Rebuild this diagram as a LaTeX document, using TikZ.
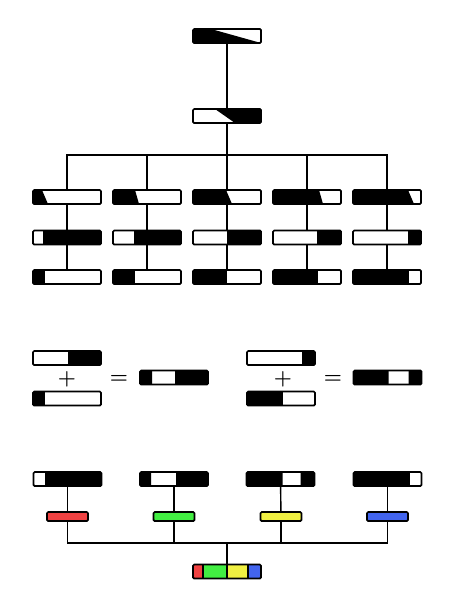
\documentclass[tikz,border=0pt]{standalone}
\usepackage{tikz}
\usetikzlibrary{positioning,calc}
\definecolor{tonered}{RGB}{240,66,66}
\definecolor{tonegreen}{RGB}{66,238,66}
\definecolor{toneyellow}{RGB}{240,240,66}
\definecolor{toneblue}{RGB}{66,100,238}
% a point inside a bar, in pt from its upper left corner
\newcommand\bpt[2]{($(path picture bounding box.north west)+(#1,#2)$)}

\begin{document}
\begin{tikzpicture}[x=1pt,y=-1pt,
    bar/.style={draw,line width=1.7pt,rounded corners=1.2pt,minimum width=68pt,
        minimum height=14pt,inner sep=0pt,outer sep=0pt},
    tone/.style={bar,minimum width=41pt,minimum height=9pt},
    blk/.style={path picture={\fill[black,sharp corners] #1;}},
    link/.style={line width=1.4pt},
    sign/.style={font=\fontsize{20.5}{20.5}\selectfont\boldmath,inner sep=0pt}]

    \useasboundingbox (0,0) rectangle (455,600);

    %the slanted pair on top
    \node[bar,blk={\bpt{0}{0} -- \bpt{18}{0} -- \bpt{68}{14} -- \bpt{0}{14} -- cycle}] (top) at (227,36) {};
    \node[bar,blk={\bpt{22}{0} -- \bpt{68}{0} -- \bpt{68}{14} -- \bpt{42}{14} -- cycle}] (second) at (227,116) {};
    \coordinate (hub) at (227,155);

    %first row: slanted cuts
    \node[bar,blk={\bpt{0}{0} -- \bpt{9}{0} -- \bpt{15}{14} -- \bpt{0}{14} -- cycle}] (s1) at (67,197) {};
    \node[bar,blk={\bpt{0}{0} -- \bpt{22}{0} -- \bpt{26}{14} -- \bpt{0}{14} -- cycle}] (s2) at (147,197) {};
    \node[bar,blk={\bpt{0}{0} -- \bpt{33}{0} -- \bpt{39}{14} -- \bpt{0}{14} -- cycle}] (s3) at (227,197) {};
    \node[bar,blk={\bpt{0}{0} -- \bpt{46}{0} -- \bpt{50}{14} -- \bpt{0}{14} -- cycle}] (s4) at (307,197) {};
    \node[bar,blk={\bpt{0}{0} -- \bpt{55}{0} -- \bpt{61}{14} -- \bpt{0}{14} -- cycle}] (s5) at (387,197) {};

    %second row: white on the left
    \node[bar,blk={\bpt{10}{0} rectangle \bpt{68}{14}}] (w1) at (67,237.5) {};
    \node[bar,blk={\bpt{21}{0} rectangle \bpt{68}{14}}] (w2) at (147,237.5) {};
    \node[bar,blk={\bpt{34}{0} rectangle \bpt{68}{14}}] (w3) at (227,237.5) {};
    \node[bar,blk={\bpt{44}{0} rectangle \bpt{68}{14}}] (w4) at (307,237.5) {};
    \node[bar,blk={\bpt{55}{0} rectangle \bpt{68}{14}}] (w5) at (387,237.5) {};

    %third row: black on the left
    \node[bar,blk={\bpt{0}{0} rectangle \bpt{12}{14}}] (k1) at (67,277) {};
    \node[bar,blk={\bpt{0}{0} rectangle \bpt{22}{14}}] (k2) at (147,277) {};
    \node[bar,blk={\bpt{0}{0} rectangle \bpt{34}{14}}] (k3) at (227,277) {};
    \node[bar,blk={\bpt{0}{0} rectangle \bpt{45}{14}}] (k4) at (307,277) {};
    \node[bar,blk={\bpt{0}{0} rectangle \bpt{56}{14}}] (k5) at (387,277) {};

    \draw[link] (top) -- (second);
    \draw[link] (second) -- (hub);
    \draw[link] (s1.north) |- (hub);
    \draw[link] (s2.north) |- (hub);
    \draw[link] (s3.north) -- (hub);
    \draw[link] (s4.north) |- (hub);
    \draw[link] (s5.north) |- (hub);
    \draw[link] (s1) -- (w1) -- (k1);
    \draw[link] (s2) -- (w2) -- (k2);
    \draw[link] (s3) -- (w3) -- (k3);
    \draw[link] (s4) -- (w4) -- (k4);
    \draw[link] (s5) -- (w5) -- (k5);

    %the two sums
    \node[bar,blk={\bpt{35}{0} rectangle \bpt{68}{14}}] (addA) at (67,358) {};
    \node[sign] (plusL) at (67,379) {$+$};
    \node[bar,blk={\bpt{0}{0} rectangle \bpt{12}{14}}] (addB) at (67,398.5) {};
    \node[sign] (eqL) at (119,379) {$=$};
    \node[bar,blk={\bpt{0}{0} rectangle \bpt{12}{14} \bpt{35}{0} rectangle \bpt{68}{14}}] (sumL) at (174,377.5) {};

    \node[bar,blk={\bpt{55}{0} rectangle \bpt{68}{14}}] (addC) at (281,358) {};
    \node[sign] (plusR) at (283,379) {$+$};
    \node[bar,blk={\bpt{0}{0} rectangle \bpt{36}{14}}] (addD) at (281,398.5) {};
    \node[sign] (eqR) at (333,379) {$=$};
    \node[bar,blk={\bpt{0}{0} rectangle \bpt{35}{14} \bpt{55}{0} rectangle \bpt{68}{14}}] (sumR) at (387.5,377.5) {};

    %colour coding
    \node[bar,blk={\bpt{11}{0} rectangle \bpt{68}{14}}] (m1) at (67.5,479) {};
    \node[bar,blk={\bpt{0}{0} rectangle \bpt{11}{14} \bpt{36}{0} rectangle \bpt{68}{14}}] (m2) at (174,479) {};
    \node[bar,blk={\bpt{0}{0} rectangle \bpt{36}{14} \bpt{54}{0} rectangle \bpt{68}{14}}] (m3) at (280.5,479) {};
    \node[bar,blk={\bpt{0}{0} rectangle \bpt{56}{14}}] (m4) at (387.5,479) {};

    \node[tone,fill=tonered] (red) at (67.5,516.5) {};
    \node[tone,fill=tonegreen] (green) at (174,516.5) {};
    \node[tone,fill=toneyellow] (yellow) at (281,516.5) {};
    \node[tone,fill=toneblue] (blue) at (387.5,516.5) {};
    \coordinate (join) at (227,543);

    \node[bar,path picture={
        \fill[tonered,sharp corners] \bpt{0}{0} rectangle \bpt{10}{14};
        \fill[tonegreen,sharp corners] \bpt{10}{0} rectangle \bpt{34}{14};
        \fill[toneyellow,sharp corners] \bpt{34}{0} rectangle \bpt{55}{14};
        \fill[toneblue,sharp corners] \bpt{55}{0} rectangle \bpt{68}{14};
        \draw[line width=1.3pt] \bpt{10}{0} -- \bpt{10}{14} \bpt{34}{0} -- \bpt{34}{14}
            \bpt{55}{0} -- \bpt{55}{14};}] (mix) at (227,571.5) {};

    \draw[link] (m1) -- (red);
    \draw[link] (m2) -- (green);
    \draw[link] (m3) -- (yellow);
    \draw[link] (m4) -- (blue);
    \draw[link] (red.south) |- (join);
    \draw[link] (green.south) |- (join);
    \draw[link] (yellow.south) |- (join);
    \draw[link] (blue.south) |- (join);
    \draw[link] (join) -- (mix);
\end{tikzpicture}
\end{document}
